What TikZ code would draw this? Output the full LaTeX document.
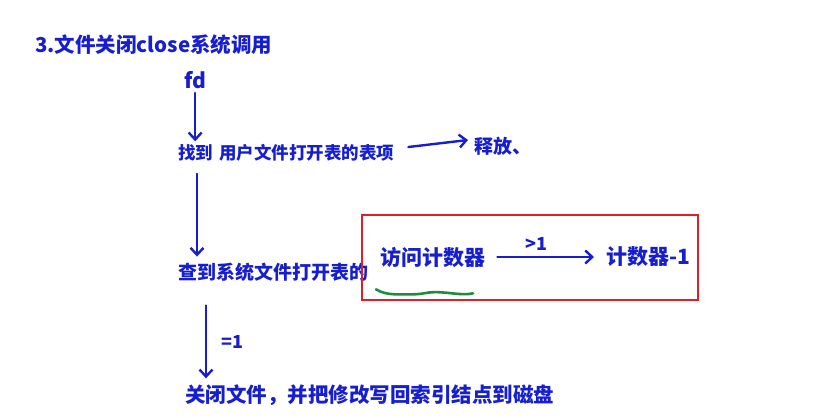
\documentclass[tikz,border=0pt]{standalone}
\usepackage{fontspec}
\newfontfamily\cjk{Noto Sans CJK SC}
\usetikzlibrary{arrows.meta}
\definecolor{ink}{RGB}{22,30,205}
\definecolor{boxred}{RGB}{228,30,40}
\definecolor{wavegreen}{RGB}{30,140,60}
\tikzset{
  txt/.style={anchor=west, inner sep=0pt, text=ink, font=\cjk\bfseries\fontsize{19}{19}\selectfont},
  bigtxt/.style={txt, font=\cjk\bfseries\fontsize{21}{21}\selectfont},
  arr/.style={draw=ink, line width=2.4pt, line cap=round,
    -{Straight Barb[length=7pt,width=13pt,line width=2.4pt]}},
  lbl/.style={inner sep=0pt, text=ink, font=\cjk\bfseries\fontsize{18}{18}\selectfont},
  redbox/.style={draw=boxred, line width=1.8pt},
  wavy/.style={draw=wavegreen, line width=2.6pt, line cap=round}
}
\begin{document}
\begin{tikzpicture}[x=1pt,y=-1pt]
\useasboundingbox (0,0) rectangle (828,418);
\node[txt, font=\cjk\bfseries\fontsize{20.5}{20.5}\selectfont] (title) at (35,45) {3.文件关闭close系统调用};
\node[txt, font=\cjk\bfseries\fontsize{21}{21}\selectfont] (fd) at (184,80) {fd};
\node[txt, font=\cjk\bfseries\fontsize{17.5}{17.5}\selectfont] (find) at (178,153) {找到\hspace{6pt}用户文件打开表的表项};
\node[txt] (release) at (474,146) {释放、};
\node[txt] (check) at (178,272) {查到系统文件打开表的};
\node[bigtxt] (counter) at (380,257) {访问计数器};
\node[bigtxt] (dec) at (606,257) {计数器-1};
\node[txt, font=\cjk\bfseries\fontsize{20.5}{20.5}\selectfont] (close) at (185,395) {关闭文件，并把修改写回索引结点到磁盘};

\draw[redbox] (362,215) rectangle (698,300);

\draw[arr] ([yshift=-4pt]fd.south) -- ([yshift=3pt]fd.south |- find.north);
\draw[arr] ([xshift=14pt,yshift=6pt]find.east) -- ([xshift=-6pt,yshift=6pt]release.west);
\coordinate (d1) at ([xshift=19pt,yshift=-12pt]find.south west);
\draw[arr] (d1) -- ([yshift=6pt]d1 |- check.north);
\draw[arr] ([xshift=12pt]counter.east) -- node[lbl, above=5pt, pos=0.4] {>1} ([xshift=-12pt]dec.west);
\coordinate (d2) at ([xshift=28pt,yshift=-24pt]check.south west);
\draw[arr] (d2) -- node[lbl, right=14pt, pos=0.5] {=1} ([yshift=6pt]d2 |- close.north);

\draw[wavy] ([xshift=-4pt,yshift=-22pt]counter.south west)
  .. controls +(10,6) and +(-15,0) .. ++(35,5)
  .. controls +(15,0) and +(-15,-1) .. ++(30,-2)
  .. controls +(15,1) and +(-10,2) .. ++(32,1);
\end{tikzpicture}
\end{document}
